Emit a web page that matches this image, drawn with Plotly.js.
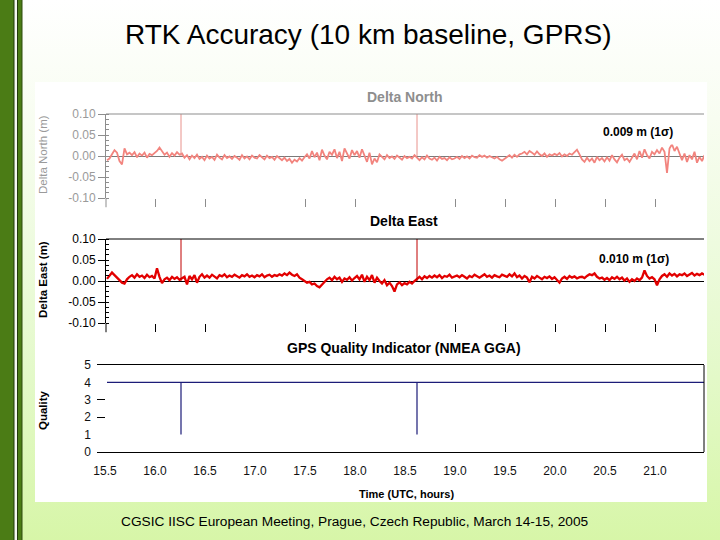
<!DOCTYPE html>
<html><head><meta charset="utf-8">
<script src="https://cdn.plot.ly/plotly-3.0.1.min.js"></script>
<style>
html,body{margin:0;padding:0;background:#fff;}
#chart{width:720px;height:540px;background:linear-gradient(to bottom,#ffffff 0%,#f8fdf1 22%,#eefbdf 45%,#e3f9c8 70%,#d7f6a8 100%);}
</style></head><body><div id="chart"></div>
<script>
// ---- data ----
const timeStart = 15.52;   // hours UTC, first sample
const timeStep = 0.025;    // hours between samples
const deltaNorth = [
 -0.010,-0.006,0.004,0.014,0.008,-0.012,-0.020,0.018,0.004,0.008,
 0.002,0.009,-0.003,0.006,0.001,0.008,-0.004,0.005,0.002,0.007,
 0.012,0.020,0.010,0.003,0.008,-0.002,0.007,0.001,0.009,0.003,
 0.006,-0.004,0.002,-0.008,0.001,-0.005,0.003,-0.007,-0.002,-0.010,
 0.001,-0.006,-0.002,-0.009,0.003,-0.004,-0.008,0.002,-0.005,-0.001,
 -0.007,0.000,-0.004,-0.009,0.002,-0.006,-0.001,-0.008,0.001,-0.004,
 -0.006,0.002,-0.003,-0.008,0.001,-0.005,-0.002,-0.009,0.000,-0.006,
 -0.010,-0.004,-0.012,-0.007,-0.016,-0.009,-0.013,-0.005,-0.011,-0.003,
 0.004,-0.006,0.012,-0.003,0.008,-0.010,0.015,0.001,-0.008,0.010,
 0.003,0.016,-0.005,0.010,-0.012,0.018,0.004,-0.006,0.014,0.002,
 0.012,-0.004,0.016,0.002,-0.014,0.008,-0.020,-0.006,-0.015,0.004,
 -0.003,-0.008,0.002,-0.005,-0.001,-0.007,0.001,-0.004,-0.009,0.000,
 -0.005,-0.002,-0.006,0.002,-0.004,-0.010,-0.003,-0.008,0.001,-0.006,
 -0.009,-0.004,-0.011,-0.002,-0.007,-0.005,-0.010,-0.003,-0.008,-0.006,
 -0.002,-0.007,0.000,-0.005,-0.001,-0.006,0.001,-0.003,-0.004,0.002,
 -0.002,0.001,-0.004,0.000,-0.003,-0.006,-0.002,-0.008,-0.011,-0.006,
 -0.003,0.002,-0.004,0.003,-0.002,0.004,0.006,0.010,0.004,0.012,
 0.008,0.003,0.011,0.004,0.000,0.006,-0.002,0.004,0.001,0.005,
 0.002,0.007,-0.001,0.004,0.000,0.006,0.003,0.010,0.015,0.004,
 -0.008,-0.014,-0.004,-0.012,-0.006,-0.016,-0.002,-0.010,-0.005,-0.013,
 -0.003,-0.011,0.002,-0.008,-0.015,-0.004,0.003,-0.010,-0.006,-0.014,
 -0.002,0.006,-0.008,0.012,-0.004,0.016,0.002,-0.006,0.010,0.004,
 0.014,0.006,0.020,0.010,-0.040,0.018,0.028,0.012,0.022,0.004,
 -0.010,0.006,-0.014,0.002,-0.008,0.010,-0.016,-0.002,-0.012,0.002
];
const deltaEast = [
 0.005,0.012,0.020,0.014,0.008,0.004,-0.004,-0.006,0.004,0.010,
 0.014,0.008,0.016,0.010,0.013,0.007,0.015,0.009,0.012,0.006,
 0.030,0.010,-0.005,0.004,0.008,0.002,0.010,0.005,0.009,0.003,
 0.006,0.010,-0.008,0.012,0.004,0.014,-0.004,0.010,0.016,0.008,
 0.013,0.008,0.015,0.010,0.006,0.014,0.011,0.016,0.009,0.013,
 0.010,0.015,0.012,0.008,0.014,0.011,0.016,0.010,0.013,0.009,
 0.014,0.011,0.016,0.009,0.013,0.015,0.010,0.014,0.012,0.016,
 0.013,0.018,0.014,0.020,0.015,0.012,0.016,0.008,0.004,0.000,
 -0.004,-0.002,-0.008,-0.006,-0.012,-0.015,-0.008,-0.002,0.004,0.008,
 0.002,0.010,0.004,0.008,-0.002,0.006,0.003,0.009,0.001,0.007,
 0.012,0.004,0.015,-0.002,0.010,0.002,0.014,-0.004,0.008,0.000,
 -0.006,0.002,-0.010,-0.004,-0.012,-0.025,-0.008,-0.003,-0.010,-0.005,
 -0.008,-0.002,-0.006,0.000,0.006,0.010,0.004,0.011,0.007,0.012,
 0.008,0.013,0.009,0.014,0.007,0.012,0.010,0.015,0.008,0.011,
 0.013,0.009,0.014,0.010,0.006,0.012,0.009,0.015,0.011,0.008,
 0.012,0.016,0.010,0.013,0.008,0.014,0.011,0.009,0.015,0.012,
 0.010,0.016,0.011,0.018,0.009,0.013,0.006,0.012,0.008,-0.003,
 0.010,0.006,0.012,0.008,0.004,0.010,0.007,0.011,0.005,0.009,
 0.002,-0.004,0.006,0.010,0.005,0.012,0.008,0.011,0.006,0.009,
 0.010,0.007,0.012,0.016,0.014,0.018,0.010,0.006,0.008,0.003,
 0.007,0.002,0.009,0.005,0.010,0.004,0.008,0.001,0.006,-0.002,
 0.004,0.000,0.006,0.002,0.008,0.025,0.012,0.006,0.009,0.004,
 -0.010,0.004,0.012,0.016,0.010,0.018,0.013,0.017,0.011,0.016,
 0.014,0.018,0.012,0.016,0.019,0.013,0.017,0.014,0.018,0.015
];
const spikeTimes = [16.26, 18.62];
const spikeBase = [0.0, 0.0];
const spikeTop = [0.10, 0.10];
const qualityTime = [15.52, 16.26, 16.26, 16.26, 18.62, 18.62, 18.62, 21.49];
const qualityValue = [4, 4, 1, 4, 4, 1, 4, 4];
const xTickVals = [15.5,16.0,16.5,17.0,17.5,18.0,18.5,19.0,19.5,20.0,20.5,21.0];
const xTickText = ['15.5','16.0','16.5','17.0','17.5','18.0','18.5','19.0','19.5','20.0','20.5','21.0'];
const xMarkVals = [16.0,16.5,17.5,18.0,19.0,19.5,20.0,20.5,21.0];
const yTickVals = [-0.10,-0.05,0.00,0.05,0.10];
const yTickText = ['-0.10','-0.05','0.00','0.05','0.10'];
const qTickVals = [0,1,2,3,4,5];
const qTickText = ['0','1','2','3','4','5'];
const qDashVals = [2,3];
const sigmaNorth = '0.009 m (1σ)';
const sigmaEast = '0.010 m (1σ)';

// ---- layout helpers ----
const W = 720, H = 540;
const X = p => p / W;
const Y = p => 1 - p / H;
const FONT = 'Liberation Sans, Arial, sans-serif';
const GREY = '#8d8d8d';

function spikeTraces(color, xa, ya, width) {
  return spikeTimes.map((t, i) => ({
    type: 'scatter', mode: 'lines', x: [t, t], y: [spikeBase[i], spikeTop[i]],
    xaxis: xa, yaxis: ya, line: {color: color, width: width}, hoverinfo: 'skip', showlegend: false
  }));
}

const traces = [
  {type:'scatter', mode:'lines', x0: timeStart, dx: timeStep, y: deltaNorth, xaxis:'x', yaxis:'y',
   line:{color:'#f2847e', width:1.8}, showlegend:false},
  ...spikeTraces('#e8928c', 'x', 'y', 1),
  {type:'scatter', mode:'lines', x0: timeStart, dx: timeStep, y: deltaEast, xaxis:'x2', yaxis:'y2',
   line:{color:'#e20000', width:2.3}, showlegend:false},
  ...spikeTraces('#c00000', 'x2', 'y2', 1),
  {type:'scatter', mode:'lines', x: qualityTime, y: qualityValue, xaxis:'x3', yaxis:'y3',
   line:{color:'#1c1c78', width:1.2}, showlegend:false}
];

const topXDomain = [X(106), X(704)];
const topXRange = [15.51, 21.49];

function topY(domain, color, labelColor, zeroColor) {
  return {
    domain: domain, range: [-0.10, 0.10],
    tickmode: 'array', tickvals: yTickVals, ticktext: yTickText,
    ticks: 'outside', ticklen: 7, tickcolor: color, tickwidth: 1,
    showline: true, linecolor: color, linewidth: 1,
    showgrid: false, zeroline: true, zerolinecolor: zeroColor, zerolinewidth: 1,
    tickfont: {family: FONT, size: 12, color: labelColor},
    minor: {ticks: 'inside', ticklen: 3, tickcolor: color, dtick: 0.0125, tick0: 0, showgrid: false},
    fixedrange: true
  };
}
function topX(color) {
  return {
    domain: topXDomain, range: topXRange, showline: false, showgrid: false, zeroline: false,
    tickmode: 'array', tickvals: xMarkVals, ticks: 'outside', ticklen: 8, tickcolor: color,
    showticklabels: false, fixedrange: true
  };
}

const yax1 = topY([Y(198), Y(114)], GREY, '#9a9a9a', '#7a7a7a'); yax1.anchor = 'x';
const yax2 = topY([Y(323), Y(239)], '#000', '#000', '#000'); yax2.anchor = 'x2';
const xax1 = topX(GREY); xax1.anchor = 'y';
const xax2 = topX('#000'); xax2.anchor = 'y2';

const ann = (x, y, text, size, color, bold, extra) => Object.assign({
  xref:'paper', yref:'paper', x: X(x), y: Y(y), text: text, showarrow: false,
  xanchor: 'center', yanchor: 'middle',
  font: {family: FONT, size: size, color: color, weight: bold ? 'bold' : 'normal'}
}, extra || {});

const layout = {
  width: W, height: H, margin: {l:0, r:0, t:0, b:0},
  paper_bgcolor: 'rgba(0,0,0,0)', plot_bgcolor: 'rgba(0,0,0,0)',
  showlegend: false,
  xaxis: xax1, yaxis: yax1,
  xaxis2: xax2, yaxis2: yax2,
  xaxis3: {
    domain: [X(97), X(704)], range: [15.42, 21.49], anchor: 'y3',
    tickmode: 'array', tickvals: xTickVals, ticktext: xTickText, ticks: '',
    showline: true, mirror: true, linecolor: '#000', linewidth: 1,
    showgrid: false, zeroline: false, ticklabelstandoff: 8,
    tickfont: {family: FONT, size: 12, color: '#111'}, fixedrange: true
  },
  yaxis3: {
    domain: [Y(452), Y(365)], range: [0, 5], anchor: 'x3',
    tickmode: 'array', tickvals: qTickVals, ticktext: qTickText, ticks: '',
    showline: false, showgrid: false, zeroline: false, ticklabelstandoff: 5,
    minor: {ticks: 'inside', tickmode: 'array', tickvals: qDashVals, ticklen: 8, tickcolor: '#000', showgrid: false},
    tickfont: {family: FONT, size: 12, color: '#111'}, fixedrange: true
  },
  shapes: [
    {type:'rect', xref:'paper', yref:'paper', x0: X(35), x1: X(707), y0: Y(502), y1: Y(82),
     fillcolor:'#ffffff', line:{width:0}, layer:'below'},
    {type:'rect', xref:'paper', yref:'paper', x0: 0, x1: X(14), y0: 0, y1: 1,
     fillcolor:'#4b7c15', line:{width:0}, layer:'below'},
    {type:'rect', xref:'paper', yref:'paper', x0: X(14), x1: X(17.5), y0: 0, y1: 1,
     fillcolor:'#f4f8ee', line:{width:0}, layer:'below'},
    {type:'rect', xref:'paper', yref:'paper', x0: X(17.5), x1: X(22), y0: 0, y1: 1,
     fillcolor:'#4b7c15', line:{width:0}, layer:'below'},
    {type:'line', xref:'paper', yref:'paper', x0: X(14), x1: X(14), y0: 0, y1: 1, line:{color:'#22380a', width:1}},
    {type:'line', xref:'paper', yref:'paper', x0: X(17.5), x1: X(17.5), y0: 0, y1: 1, line:{color:'#22380a', width:1}},
    {type:'line', xref:'paper', yref:'paper', x0: X(22), x1: X(22), y0: 0, y1: 1, line:{color:'#2e4c0e', width:1}},
    // panel frames
    {type:'line', xref:'x domain', yref:'y domain', x0:0, x1:1, y0:1, y1:1, line:{color:GREY, width:1}},
    {type:'line', xref:'x domain', yref:'y domain', x0:0, x1:0, y0:0, y1:-0.11, line:{color:GREY, width:1}},
    {type:'line', xref:'x2 domain', yref:'y2 domain', x0:0, x1:1, y0:1, y1:1, line:{color:'#000', width:1}},
    {type:'line', xref:'x2 domain', yref:'y2 domain', x0:0, x1:0, y0:0, y1:-0.11, line:{color:'#000', width:1}},
    {type:'line', xref:'x3 domain', yref:'y3 domain', x0:1, x1:1, y0:0, y1:1, line:{color:'#000', width:1}}
  ],
  annotations: [
    ann(369, 35, 'RTK Accuracy (10 km baseline, GPRS)', 28, '#000', false),
    ann(404, 97, 'Delta North', 14, '#8e8e8e', true),
    ann(404, 221, 'Delta East', 14, '#000', true),
    ann(404, 348, 'GPS Quality Indicator (NMEA GGA)', 14, '#000', true),
    ann(406, 494, 'Time (UTC, hours)', 11, '#000', true),
    ann(43, 155, 'Delta North (m)', 11.5, '#9a9a9a', false, {textangle: -90}),
    ann(43, 280, 'Delta East (m)', 11.5, '#000', true, {textangle: -90}),
    ann(43, 410, 'Quality', 11.5, '#000', true, {textangle: -90}),
    ann(638, 132, sigmaNorth, 12, '#000', true, {bgcolor:'#ffffff', borderpad: 5}),
    ann(634, 259, sigmaEast, 12, '#000', true, {bgcolor:'#ffffff', borderpad: 3}),
    ann(355, 521, 'CGSIC IISC European Meeting, Prague, Czech Republic, March 14-15, 2005', 13.7, '#000', false)
  ]
};

Plotly.newPlot('chart', traces, layout, {staticPlot: true, displayModeBar: false});
</script>
</body></html>
